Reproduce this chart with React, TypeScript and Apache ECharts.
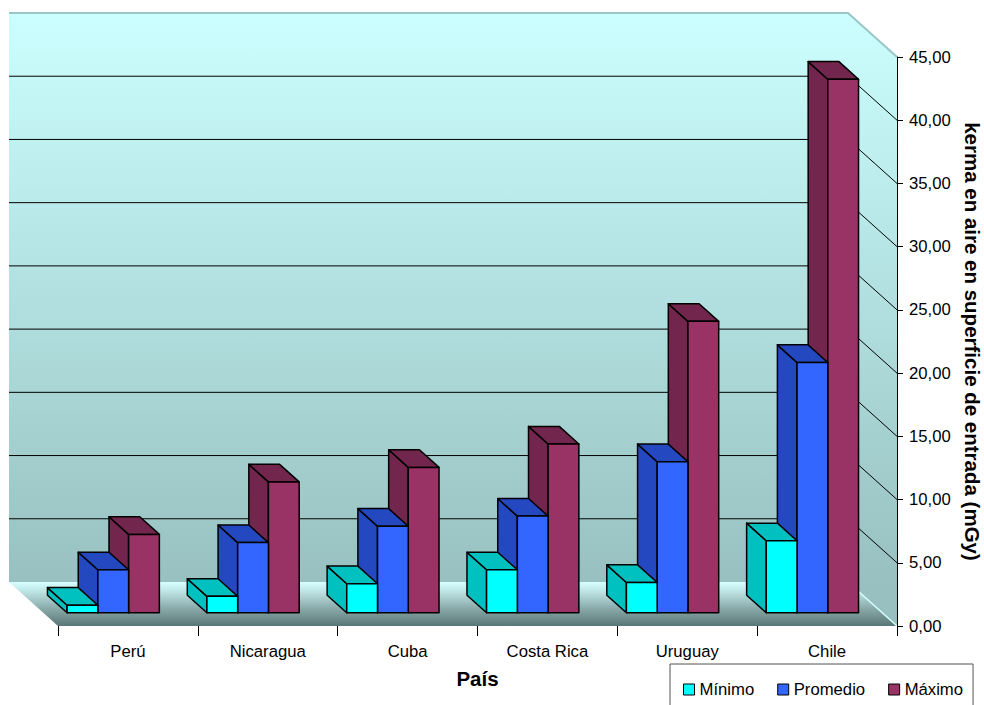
import React, { useEffect, useRef } from 'react';
import * as echarts from 'echarts';

// Entrance surface air kerma by country (mGy)
const countries = ['Perú', 'Nicaragua', 'Cuba', 'Costa Rica', 'Uruguay', 'Chile'];
const minimo = [0.6, 1.3, 2.3, 3.4, 2.4, 5.7];
const promedio = [3.4, 5.55, 6.85, 7.65, 11.95, 19.8];
const maximo = [6.2, 10.35, 11.5, 13.35, 23.05, 42.2];
const gridValues = [5, 10, 15, 20, 25, 30, 35, 40];

const seriesDefs = [
  { name: 'Mínimo', values: minimo, front: '#00FFFF', shade: '#00C0C0' },
  { name: 'Promedio', values: promedio, front: '#3366FF', shade: '#2448C0' },
  { name: 'Máximo', values: maximo, front: '#993366', shade: '#73264D' },
];

// Oblique projection of the depth axis (pixels for the full floor depth)
const DEPTH_X = 49;
const DEPTH_Y = 44;
const BAR_NEAR = 0.3;
const BAR_FAR = 0.7;
const BAR_FRACTION = 0.22;

const FONT = 'Arial, "Liberation Sans", sans-serif';

const renderFrame = (params: any, api: any) => {
  const cs = params.coordSys;
  const x0 = cs.x;
  const x1 = cs.x + cs.width;
  const yTop = cs.y;
  const yBot = cs.y + cs.height;
  const bx0 = x0 - DEPTH_X;
  const bx1 = x1 - DEPTH_X;
  const bTop = yTop - DEPTH_Y;
  const bBot = yBot - DEPTH_Y;

  const wallFill = {
    type: 'linear', x: 0, y: bTop, x2: 0, y2: bBot, global: true,
    colorStops: [
      { offset: 0, color: '#CCFFFF' },
      { offset: 1, color: '#98C0C0' },
    ],
  };
  const floorFill = {
    type: 'linear', x: 0, y: bBot, x2: 0, y2: yBot, global: true,
    colorStops: [
      { offset: 0, color: '#D6FFFF' },
      { offset: 0.2, color: '#C0E6E6' },
      { offset: 0.6, color: '#8AAAAA' },
      { offset: 1, color: '#5A7676' },
    ],
  };

  const children: any[] = [
    { type: 'rect', shape: { x: bx0, y: bTop, width: bx1 - bx0, height: bBot - bTop }, style: { fill: wallFill } },
    { type: 'polygon', shape: { points: [[bx1, bTop], [x1, yTop], [x1, yBot], [bx1, bBot]] }, style: { fill: wallFill } },
    { type: 'polygon', shape: { points: [[bx0, bBot], [bx1, bBot], [x1, yBot], [x0, yBot]] }, style: { fill: floorFill } },
    { type: 'polyline', shape: { points: [[bx0, bTop], [bx1, bTop], [x1, yTop]] }, style: { stroke: '#99C6C6', lineWidth: 2, fill: null } },
    { type: 'line', shape: { x1: bx1, y1: bBot, x2: x1, y2: yBot }, style: { stroke: '#D8FFFF', lineWidth: 1.5 } },
  ];

  gridValues.forEach((v) => {
    const y = api.coord([0, v])[1];
    children.push({
      type: 'polyline',
      shape: { points: [[bx0, y - DEPTH_Y], [bx1, y - DEPTH_Y], [x1, y]] },
      style: { stroke: '#000', lineWidth: 1, fill: null },
    });
  });

  return { type: 'group', children };
};

const makeBarRenderer = (slot: number, front: string, shade: string) => (params: any, api: any) => {
  const cat = api.value(0);
  const val = api.value(1);
  const base = api.coord([cat, 0]);
  const top = api.coord([cat, val]);
  const band = api.size([1, 0])[0];
  const w = band * BAR_FRACTION;
  const nx = DEPTH_X * BAR_NEAR;
  const ny = DEPTH_Y * BAR_NEAR;
  const dx = DEPTH_X * (BAR_FAR - BAR_NEAR);
  const dy = DEPTH_Y * (BAR_FAR - BAR_NEAR);
  const xl = base[0] - nx + (slot - 1.5) * w;
  const yb = base[1] - ny;
  const yt = top[1] - ny;
  const edge = { stroke: '#000', lineWidth: 1.5, lineJoin: 'round' };
  return {
    type: 'group',
    children: [
      { type: 'polygon', shape: { points: [[xl, yb], [xl, yt], [xl - dx, yt - dy], [xl - dx, yb - dy]] }, style: { fill: shade, ...edge } },
      { type: 'polygon', shape: { points: [[xl, yt], [xl + w, yt], [xl + w - dx, yt - dy], [xl - dx, yt - dy]] }, style: { fill: shade, ...edge } },
      { type: 'rect', shape: { x: xl, y: yt, width: w, height: yb - yt }, style: { fill: front, ...edge } },
    ],
  };
};

export default function App() {
  const ref = useRef<HTMLDivElement>(null);

  useEffect(() => {
    if (!ref.current) return;
    const chart = echarts.init(ref.current, null, { renderer: 'svg' });

    // Boxes further right sit behind their left neighbours, so they are painted first.
    const barSeries = seriesDefs
      .map((s, i) => ({
        name: s.name,
        type: 'custom',
        z: 2,
        itemStyle: { color: s.front },
        encode: { x: 0, y: 1 },
        data: countries.map((_, k) => [k, s.values[k]]),
        renderItem: makeBarRenderer(i, s.front, s.shade),
      }))
      .reverse();

    chart.setOption({
      animation: false,
      backgroundColor: '#FFFFFF',
      textStyle: { fontFamily: FONT },
      grid: { left: 58, right: 87, top: 57, bottom: 79, outerBoundsMode: 'none', containLabel: false },
      legend: {
        data: seriesDefs.map((s) => s.name),
        left: 670,
        top: 664,
        orient: 'horizontal',
        icon: 'rect',
        itemWidth: 11,
        itemHeight: 11,
        itemGap: 23,
        padding: [17, 10, 30, 13],
        borderColor: '#555',
        borderWidth: 1,
        backgroundColor: '#FFFFFF',
        itemStyle: { borderColor: '#000', borderWidth: 1 },
        textStyle: { fontFamily: FONT, fontSize: 16.7, color: '#000' },
      },
      xAxis: {
        type: 'category',
        data: countries,
        z: 5,
        name: 'País',
        nameLocation: 'middle',
        nameGap: 42,
        nameTextStyle: { fontFamily: FONT, fontSize: 20.5, fontWeight: 'bold', color: '#000' },
        axisLine: { show: false },
        axisTick: { show: true, length: 10, lineStyle: { color: '#000', width: 1 } },
        axisLabel: { fontFamily: FONT, fontSize: 16.7, color: '#000', margin: 17, interval: 0 },
        splitLine: { show: false },
      },
      yAxis: {
        type: 'value',
        position: 'right',
        z: 5,
        min: 0,
        max: 45,
        interval: 5,
        name: 'kerma en aire en superficie de entrada (mGy)',
        nameLocation: 'middle',
        nameRotate: -90,
        nameGap: 60,
        nameTextStyle: { fontFamily: FONT, fontSize: 20.5, fontWeight: 'bold', color: '#000' },
        axisLine: { show: true, lineStyle: { color: '#000', width: 1 } },
        axisTick: { show: true, length: 6, lineStyle: { color: '#000', width: 1 } },
        axisLabel: {
          fontFamily: FONT,
          fontSize: 16.7,
          color: '#000',
          margin: 12,
          formatter: (v: number) => v.toFixed(2).replace('.', ','),
        },
        splitLine: { show: false },
      },
      series: [
        {
          type: 'custom',
          name: 'frame',
          z: 1,
          silent: true,
          encode: { x: 0, y: 1 },
          data: [[0, 0]],
          renderItem: renderFrame,
        },
        ...barSeries,
      ],
    });

    return () => chart.dispose();
  }, []);

  return (
    <div
      ref={ref}
      style={{ position: 'fixed', left: 0, top: 0, width: 984, height: 705, background: '#fff' }}
    />
  );
}
